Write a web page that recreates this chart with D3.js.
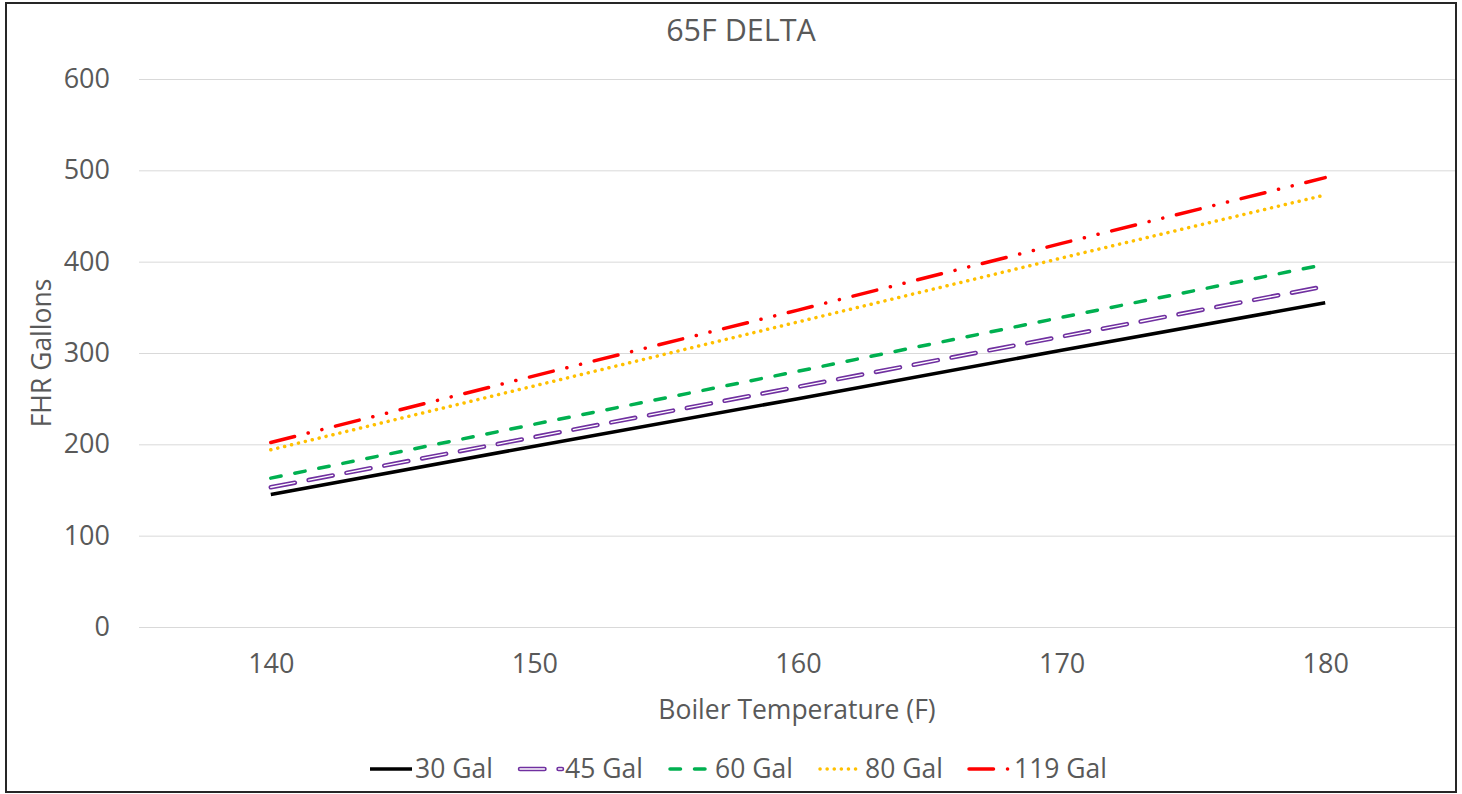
<!DOCTYPE html>
<html>
<head>
<meta charset="utf-8">
<script src="https://cdn.jsdelivr.net/npm/d3@7"></script>
<style>
  html, body { margin: 0; padding: 0; background: #fff; }
  text { font-family: "Open Sans", "Noto Sans", sans-serif; fill: #595959; }
</style>
</head>
<body>
<div id="chart"></div>
<script>
// data
const temps = ["140", "150", "160", "170", "180"];
const seriesNames = ["30 Gal", "45 Gal", "60 Gal", "80 Gal", "119 Gal"];
const gal30  = [145, 198, 250, 303, 355];
const gal45  = [153, 208, 263, 318, 373];
const gal60  = [163, 222, 280, 339, 397];
const gal80  = [194, 264, 334, 404, 473];
const gal119 = [202, 275, 347, 420, 492];
const yTicks = [0, 100, 200, 300, 400, 500, 600];

const allValues = [gal30, gal45, gal60, gal80, gal119];

const W = 1462, H = 794;
const plotL = 139, plotR = 1457, plotT = 79, plotB = 627;

const w = 3.5;
const styles = [
  { color: "#000000", dash: null, cap: "butt" },
  { color: "#7030a0", dash: `${8*w - w},${3*w + w}`, cap: "round", outline: true },
  { color: "#00b050", dash: `${4*w - w},${3*w + w}`, cap: "round" },
  { color: "#ffc000", dash: `0.1,${2*w}`, cap: "round" },
  { color: "#ff0000", dash: `${8*w - w},${3*w + w},0.1,${4*w},0.1,${4*w}`, cap: "round" }
];

const svg = d3.select("#chart").append("svg")
  .attr("width", W).attr("height", H);

// outer frame
svg.append("rect")
  .attr("x", 6).attr("y", 3).attr("width", 1450).attr("height", 789)
  .attr("fill", "#fff").attr("stroke", "#262626").attr("stroke-width", 2);

const x = d3.scalePoint()
  .domain(temps)
  .range([plotL, plotR])
  .padding(0.5);

const y = d3.scaleLinear()
  .domain([0, 600])
  .range([plotB, plotT]);

// grid
svg.append("g")
  .attr("transform", `translate(${plotL},0)`)
  .call(d3.axisLeft(y).tickValues(yTicks).tickSize(-(1455 - plotL)).tickFormat(""))
  .call(g => g.select(".domain").remove())
  .selectAll("line").attr("stroke", "#d9d9d9").attr("stroke-width", 1);

// y axis labels
svg.append("g")
  .attr("transform", `translate(${plotL},0)`)
  .call(d3.axisLeft(y).tickValues(yTicks).tickSize(0).tickPadding(29))
  .call(g => g.select(".domain").remove())
  .selectAll("text")
  .style("font-size", "27px").attr("fill", "#595959");

// x axis labels
svg.append("g")
  .attr("transform", `translate(0,${y(0)})`)
  .call(d3.axisBottom(x).tickSize(0).tickPadding(27))
  .call(g => g.select(".domain").remove())
  .selectAll("text")
  .style("font-size", "27px").attr("fill", "#595959");

// titles
svg.append("text")
  .attr("x", 741).attr("y", 41)
  .attr("text-anchor", "middle").style("font-size", "30.5px")
  .text("65F DELTA");

svg.append("text")
  .attr("x", 797).attr("y", 719)
  .attr("text-anchor", "middle").style("font-size", "26.5px")
  .text("Boiler Temperature (F)");

svg.append("text")
  .attr("transform", "translate(51,353) rotate(-90)")
  .attr("text-anchor", "middle").style("font-size", "26.5px")
  .text("FHR Gallons");

// lines
const line = d3.line()
  .x((d, i) => x(temps[i]))
  .y(d => y(d));

function drawStroke(sel, s) {
  if (s.outline) {
    sel.clone()
      .attr("stroke", s.color).attr("stroke-width", w + 1)
      .attr("stroke-dasharray", s.dash).attr("stroke-linecap", s.cap);
    sel.attr("stroke", "#fff").attr("stroke-width", w - 2.2)
      .attr("stroke-dasharray", s.dash).attr("stroke-linecap", s.cap)
      .raise();
  } else {
    sel.attr("stroke", s.color).attr("stroke-width", w)
      .attr("stroke-dasharray", s.dash).attr("stroke-linecap", s.cap);
  }
}

const gLines = svg.append("g");
allValues.forEach((vals, k) => {
  const p = gLines.append("path")
    .attr("d", line(vals))
    .attr("fill", "none");
  drawStroke(p, styles[k]);
});

// legend
const legendX = [370, 520, 670, 820, 969];
const legendY = 769;
const gLeg = svg.append("g");
seriesNames.forEach((name, k) => {
  const p = gLeg.append("path")
    .attr("d", `M${legendX[k]},${legendY}h42`)
    .attr("fill", "none");
  drawStroke(p, styles[k]);
  gLeg.append("text")
    .attr("x", legendX[k] + 45).attr("y", legendY + 9)
    .style("font-size", "26.5px")
    .text(name);
});
</script>
</body>
</html>
